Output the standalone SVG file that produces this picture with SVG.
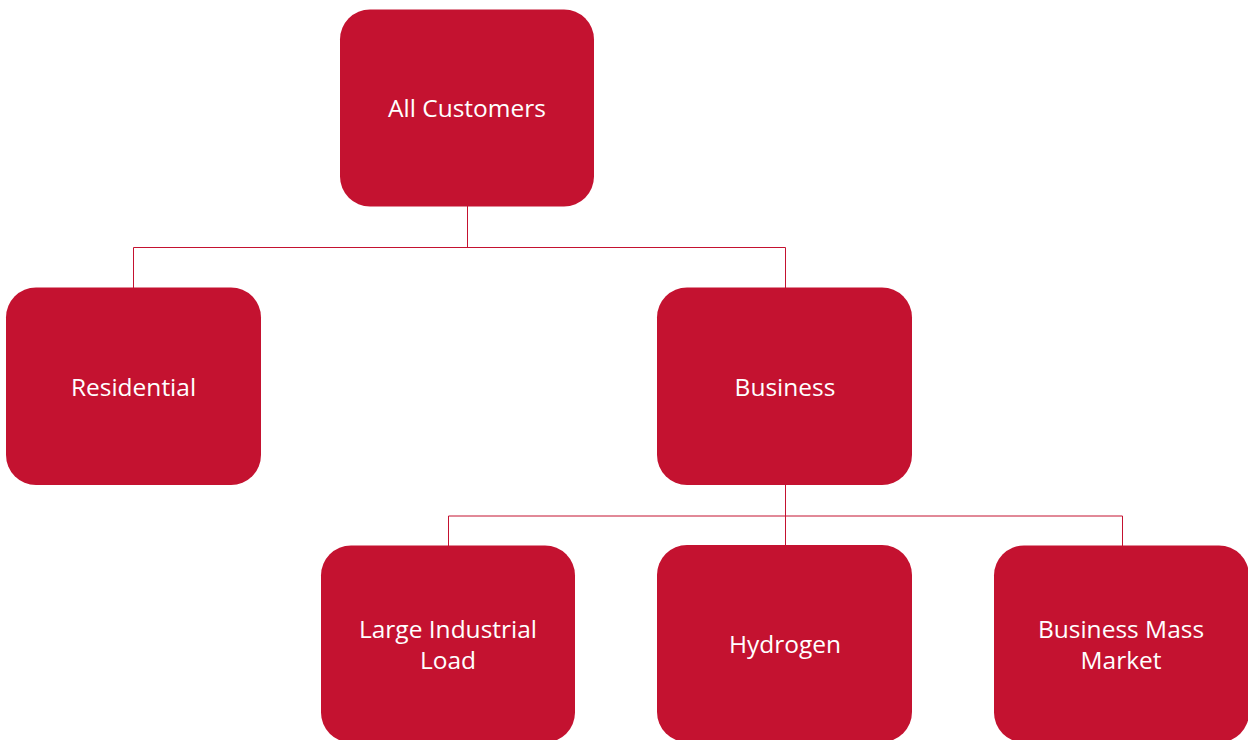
<svg xmlns="http://www.w3.org/2000/svg" width="1248" height="740" viewBox="0 0 1248 740">
<style>
.box{fill:#C41230;}
.lbl{fill:#FFFFFF;font-family:"Open Sans","Noto Sans","Liberation Sans",sans-serif;font-size:24.5px;text-anchor:middle;}
.conn{fill:none;stroke:#C41230;stroke-width:1;}
</style>
<rect width="1248" height="740" fill="#FFFFFF"/>
<g id="connectors">
<path class="conn" d="M467.5,206 V247.5 M133.5,247.5 H785.5 M133.5,247.5 V288 M785.5,247.5 V288"/>
<path class="conn" d="M785.5,485 V516 M448.5,516 H1122.5 M448.5,516 V546 M785.5,516 V546 M1122.5,516 V546"/>
</g>
<g id="all-customers">
<rect class="box" x="340" y="9.5" width="254" height="197" rx="30"/>
<text class="lbl" x="467" y="117">All Customers</text>
</g>
<g id="residential">
<rect class="box" x="6" y="287.5" width="255" height="197.5" rx="30"/>
<text class="lbl" x="133.5" y="396">Residential</text>
</g>
<g id="business">
<rect class="box" x="657" y="287.5" width="255" height="197.5" rx="30"/>
<text class="lbl" x="785" y="396">Business</text>
</g>
<g id="large-industrial-load">
<rect class="box" x="321" y="545.5" width="254" height="197" rx="30"/>
<text class="lbl" x="448" y="638">Large Industrial</text>
<text class="lbl" x="448" y="669">Load</text>
</g>
<g id="hydrogen">
<rect class="box" x="657" y="545" width="255" height="197" rx="30"/>
<text class="lbl" x="785" y="653">Hydrogen</text>
</g>
<g id="business-mass-market">
<rect class="box" x="994" y="545.5" width="255" height="197" rx="30"/>
<text class="lbl" x="1121" y="638">Business Mass</text>
<text class="lbl" x="1121" y="669">Market</text>
</g>
</svg>
